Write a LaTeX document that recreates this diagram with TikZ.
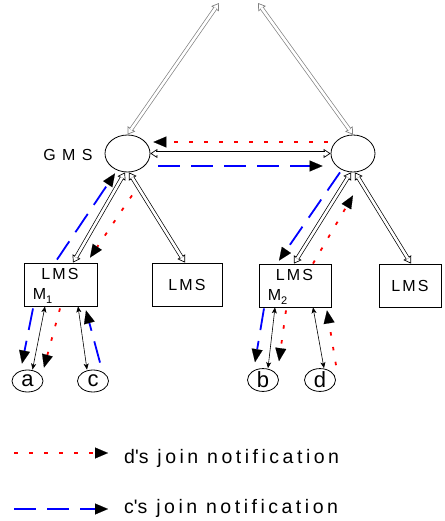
\documentclass[tikz,border=0pt]{standalone}
\usepackage{fontspec}
\setmainfont{Liberation Sans}
\newfontfamily\boxfont[LetterSpace=13]{Liberation Sans}
\newfontfamily\gmsfont[LetterSpace=40]{Liberation Sans}
\newfontfamily\keyfont[LetterSpace=18]{Liberation Sans}
\usetikzlibrary{arrows.meta,shapes.geometric,calc}

% index written below the baseline of a server name
\newcommand{\lowidx}[1]{\raisebox{-4pt}{\fontsize{11}{11}\selectfont #1}}
% double-lined link with open heads at both ends
\newcommand{\hollowpair}[3][]{%
  \draw[hollow,#1] #2 -- #3;
  \draw[shaft,#1] #2 -- #3;}

\tikzset{
  server/.style={draw, ellipse, line width=0.8pt, minimum width=45pt,
    minimum height=37pt, inner sep=0pt},
  host/.style={draw, ellipse, line width=0.8pt, minimum width=31pt,
    minimum height=22pt, inner sep=0pt, font=\fontsize{22}{22}\selectfont},
  lmsbox/.style={draw, rectangle, line width=0.8pt, minimum height=43pt,
    inner sep=0pt},
  lbl/.style={inner sep=0pt, font=\boxfont\fontsize{16}{16}\selectfont},
  keytext/.style={inner sep=0pt, font=\keyfont\fontsize{19.5}{19.5}\selectfont},
  hollow/.style={line width=0.7pt,
    {Triangle[open,length=7pt,width=9pt]}-{Triangle[open,length=7pt,width=9pt]}},
  shaft/.style={line width=0.7pt, double=white, double distance=2.6pt,
    shorten <=6pt, shorten >=6pt},
  link/.style={line width=0.6pt,
    {Stealth[length=6pt,width=5pt,inset=1.5pt]}-{Stealth[length=6pt,width=5pt,inset=1.5pt]}},
  notehead/.style={-{Triangle[length=13pt,width=11pt,color=black,line width=0.1pt]}},
  dnote/.style={draw=red, line width=1.8pt, dash pattern=on 3.5pt off 11.5pt, notehead},
  cnote/.style={draw=blue, line width=1.8pt, dash pattern=on 22pt off 11pt, notehead},
}

\begin{document}
\begin{tikzpicture}[x=1pt, y=-1pt]
\useasboundingbox (0,0) rectangle (444,521);

% global servers
\node[server] (gms1) at (127.5,153.5) {};
\node[server, minimum width=44pt] (gms2) at (353,153.5) {};
\node[lbl, font=\gmsfont\fontsize{16}{16}\selectfont] (gmst) at (68,155) {GMS};
\coordinate (topL) at (219,3);
\coordinate (topR) at (258,3);

% local servers
\node[lmsbox, minimum width=73pt] (lms1) at (60.5,284.5) {};
\node[lmsbox, minimum width=70pt] (lms2) at (187,284.5) {};
\node[lmsbox, minimum width=72pt] (lms3) at (295,285.5) {};
\node[lmsbox, minimum width=62pt] (lms4) at (410,285.5) {};
\node[lbl] (lms1a) at ($(lms1.north)+(-0.5,11)$) {LMS};
\node[lbl, anchor=base west] (lms1b) at ($(lms1.north west)+(9,36.5)$) {M\lowidx{1}};
\node[lbl] (lms2a) at (lms2.center) {LMS};
\node[lbl] (lms3a) at ($(lms3.north)+(-0.5,11)$) {LMS};
\node[lbl, anchor=base west] (lms3b) at ($(lms3.north west)+(9,36.5)$) {M\lowidx{2}};
\node[lbl] (lms4a) at (lms4.center) {LMS};

% mobile hosts
\node[host] (a) at (27.5,381) {a};
\node[host] (c) at (93,381) {c};
\node[host] (b) at (263,380) {b};
\node[host] (d) at (320,380) {d};

% server links
\hollowpair[draw=black!50]{(gms1.north)}{(topL)}
\hollowpair[draw=black!50]{(gms2.north)}{(topR)}
\hollowpair{(gms1.east)}{(gms2.west)}
\hollowpair{($(gms1.south)+(-2.5,0)$)}{($(lms1.north)+(12.5,0)$)}
\hollowpair{($(gms1.south)+(1.5,0)$)}{($(lms2.north)+(-2,0)$)}
\hollowpair{($(gms2.south)+(-2,0)$)}{($(lms3.north)+(-1,0)$)}
\hollowpair{($(gms2.south)+(2,0)$)}{($(lms4.north)+(1,0)$)}

% host links
\draw[link] ($(lms1.south)+(-15.5,0)$) -- ($(a.north)+(5,0)$);
\draw[link] ($(lms1.south)+(17.5,0)$) -- ($(c.north)+(-6,0)$);
\draw[link] ($(lms3.south)+(-20,0)$) -- ($(b.north)+(5,0)$);
\draw[link] ($(lms3.south)+(18,0)$) -- ($(d.north)+(4,0)$);

% join notifications of c
\draw[cnote] ($(c.north)+(7,-7)$) -- ($(lms1.south)+(25.5,4)$);
\draw[cnote] ($(lms1.north)+(-3.5,-3)$) -- ($(gms1.south)+(-12.5,1)$);
\draw[cnote] ($(lms1.south)+(-27.5,2)$) -- ($(a.north)+(-5.5,-6)$);
\draw[cnote] ($(gms1.east)+(8,12.5)$) -- ($(gms2.west)+(-8,12.5)$);
\draw[cnote] ($(gms2.south)+(-13,0)$) -- ($(lms3.north)+(-16,-3)$);
\draw[cnote] ($(lms3.south)+(-31,1)$) -- ($(b.north)+(-8,-6)$);

% join notifications of d
\draw[dnote] ($(d.north)+(16,-3)$) -- ($(lms3.south)+(32,3)$);
\draw[dnote] ($(lms3.north)+(18,0)$) -- ($(gms2.south)+(0,23)$);
\draw[dnote] ($(lms3.south)+(-9,3)$) -- ($(b.north)+(16,-7)$);
\draw[dnote] ($(gms2.west)+(-3,-11.5)$) -- ($(gms1.east)+(3,-11.5)$);
\draw[dnote] ($(gms1.south)+(4.5,23)$) -- ($(lms1.north)+(29.5,-5)$);
\draw[dnote] ($(lms1.south)+(-0.5,2)$) -- ($(a.north)+(16.5,-2)$);

% key
\coordinate (k1s) at (14,453);
\coordinate (k1e) at (108,453);
\coordinate (k2s) at (14,509);
\coordinate (k2e) at (108,509);
\draw[dnote] (k1s) -- (k1e);
\draw[cnote] (k2s) -- (k2e);
\node[keytext, anchor=base west] (k1t) at (124,463) {d\textquotesingle s join notification};
\node[keytext, anchor=base west] (k2t) at (124,513) {c\textquotesingle s join notification};
\end{tikzpicture}
\end{document}
